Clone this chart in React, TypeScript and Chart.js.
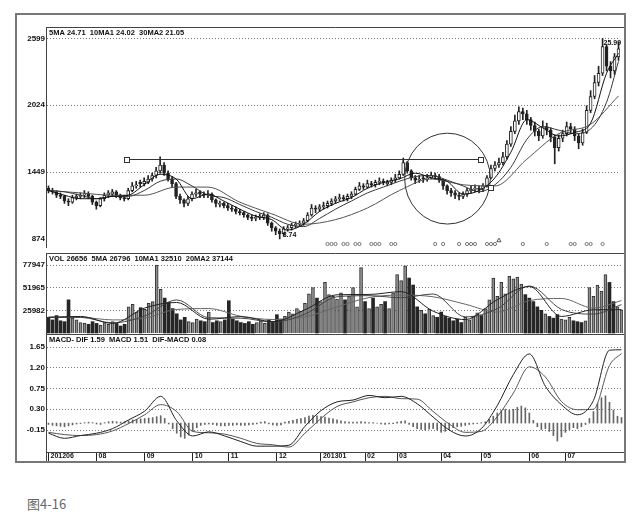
import { useEffect, useRef } from "react";
import { Chart, registerables } from "chart.js";

Chart.register(...registerables);

// one bar = roughly two sessions, June 2012 .. July 2013
const opens = [
  13.1, 12.9, 12.8, 12.5, 12.4, 12.0, 11.9, 12.3, 12.4, 12.5,
  12.6, 12.4, 11.9, 11.6, 12.2, 12.5, 12.6, 12.8, 12.5, 12.3,
  12.2, 12.9, 13.3, 13.6, 13.5, 13.6, 13.9, 14.2, 14.6, 15.1,
  14.4, 13.9, 13.5, 12.4, 12.1, 11.8, 12.2, 12.6, 12.8, 12.6,
  12.5, 12.6, 12.1, 11.7, 11.8, 11.6, 11.4, 11.3, 11.1, 11.0,
  10.8, 10.6, 10.5, 10.6, 10.6, 10.8, 10.1, 9.7, 9.4, 9.2,
  9.6, 9.7, 9.9, 10.0, 10.1, 10.3, 10.8, 11.4, 11.3, 11.5,
  11.6, 11.8, 12.0, 12.2, 12.3, 12.2, 12.4, 12.6, 13.0, 13.3,
  13.2, 13.5, 13.4, 13.6, 13.7, 13.5, 13.6, 13.8, 14.0, 14.3,
  15.3, 14.6, 14.0, 13.8, 14.0, 13.9, 14.0, 14.2, 14.1, 13.8,
  13.3, 12.9, 12.7, 12.5, 12.4, 12.6, 12.9, 13.0, 13.1, 13.0,
  13.3, 14.0, 14.8, 15.1, 15.3, 15.8, 16.9, 18.0, 18.9, 19.7,
  19.5, 19.0, 18.5, 18.0, 17.6, 18.4, 18.1, 17.5, 16.6, 17.4,
  17.8, 18.4, 18.2, 17.6, 17.0, 17.9, 19.8, 21.0, 22.2, 23.0,
  25.3, 23.6, 23.2, 24.4,
];
const highs = [
  13.3, 13.1, 12.9, 12.7, 12.5, 12.2, 12.5, 12.6, 12.7, 12.9,
  12.8, 12.5, 12.0, 12.3, 12.7, 12.9, 13.0, 12.9, 12.6, 12.5,
  13.1, 13.6, 13.7, 13.8, 14.0, 14.2, 14.4, 14.9, 15.8, 15.3,
  14.6, 14.1, 13.6, 12.6, 12.2, 12.4, 12.8, 13.0, 12.9, 12.8,
  12.9, 12.7, 12.2, 12.0, 11.9, 11.8, 11.6, 11.5, 11.3, 11.1,
  10.9, 10.8, 10.8, 10.9, 11.0, 10.9, 10.2, 9.8, 9.6, 9.8,
  9.9, 10.1, 10.2, 10.3, 10.5, 11.0, 11.7, 11.6, 11.7, 11.9,
  12.0, 12.2, 12.4, 12.6, 12.5, 12.6, 12.8, 13.2, 13.6, 13.5,
  13.8, 13.7, 13.8, 14.0, 13.9, 13.8, 14.0, 14.3, 14.6, 15.7,
  15.4, 14.7, 14.2, 14.2, 14.2, 14.3, 14.5, 14.4, 14.3, 13.9,
  13.4, 13.1, 12.9, 12.7, 12.8, 13.1, 13.3, 13.4, 13.3, 13.5,
  14.2, 15.1, 15.4, 15.7, 16.2, 17.2, 18.4, 19.4, 20.1, 20.0,
  19.8, 19.2, 18.8, 18.2, 18.9, 18.7, 18.3, 17.7, 17.7, 18.1,
  18.8, 18.7, 18.4, 17.8, 18.2, 20.2, 21.5, 22.8, 23.6, 25.99,
  25.5, 24.0, 24.7, 25.7,
];
const lows = [
  12.7, 12.6, 12.3, 12.2, 11.8, 11.6, 11.8, 12.1, 12.2, 12.3,
  12.2, 11.7, 11.3, 11.5, 12.0, 12.3, 12.4, 12.3, 12.1, 12.0,
  12.1, 12.8, 13.1, 13.2, 13.3, 13.5, 13.7, 14.0, 14.4, 14.2,
  13.7, 13.2, 12.2, 11.8, 11.5, 11.6, 12.0, 12.4, 12.3, 12.3,
  12.3, 11.9, 11.5, 11.5, 11.4, 11.2, 11.1, 10.9, 10.8, 10.6,
  10.4, 10.3, 10.3, 10.4, 10.4, 9.9, 9.4, 9.1, 8.74, 9.0,
  9.4, 9.5, 9.7, 9.8, 9.9, 10.2, 10.7, 11.0, 11.1, 11.3,
  11.4, 11.6, 11.8, 12.0, 12.0, 12.0, 12.2, 12.5, 12.9, 13.0,
  13.1, 13.2, 13.2, 13.4, 13.4, 13.3, 13.4, 13.6, 13.9, 14.2,
  14.4, 13.8, 13.5, 13.6, 13.6, 13.7, 13.9, 13.9, 13.6, 13.0,
  12.6, 12.4, 12.2, 12.1, 12.2, 12.4, 12.7, 12.8, 12.7, 12.8,
  13.2, 13.9, 14.6, 14.9, 15.1, 15.6, 16.7, 17.8, 18.6, 19.0,
  18.6, 18.1, 17.6, 17.2, 17.4, 17.7, 17.1, 15.2, 16.3, 17.1,
  17.6, 17.8, 17.2, 16.5, 16.8, 17.8, 19.6, 20.8, 21.9, 22.8,
  23.2, 22.6, 22.9, 24.1,
];
const closes = [
  12.9, 12.8, 12.5, 12.4, 12.0, 11.9, 12.3, 12.4, 12.5, 12.6,
  12.4, 11.9, 11.6, 12.2, 12.5, 12.7, 12.8, 12.5, 12.3, 12.2,
  12.9, 13.3, 13.4, 13.5, 13.7, 13.9, 14.2, 14.6, 15.1, 14.4,
  13.9, 13.5, 12.4, 12.1, 11.8, 12.2, 12.6, 12.7, 12.6, 12.5,
  12.6, 12.1, 11.8, 11.8, 11.6, 11.4, 11.3, 11.1, 11.0, 10.8,
  10.6, 10.5, 10.6, 10.7, 10.8, 10.1, 9.7, 9.4, 9.2, 9.6,
  9.7, 9.9, 10.0, 10.1, 10.3, 10.8, 11.4, 11.3, 11.5, 11.6,
  11.8, 12.0, 12.2, 12.3, 12.2, 12.4, 12.6, 13.0, 13.3, 13.2,
  13.5, 13.4, 13.6, 13.7, 13.6, 13.6, 13.8, 14.0, 14.3, 15.3,
  14.6, 14.0, 13.8, 13.9, 13.9, 14.0, 14.2, 14.1, 13.8, 13.3,
  12.9, 12.7, 12.5, 12.4, 12.6, 12.9, 13.0, 13.1, 13.0, 13.3,
  14.0, 14.8, 15.1, 15.3, 15.8, 16.9, 18.0, 18.9, 19.7, 19.5,
  19.0, 18.5, 18.0, 17.6, 18.4, 18.1, 17.5, 16.6, 17.4, 17.8,
  18.4, 18.2, 17.6, 17.0, 17.9, 19.8, 21.0, 22.2, 23.0, 25.3,
  23.6, 23.2, 24.4, 25.1,
];
const volumes = [
  18000, 15000, 20000, 14000, 13000, 38000, 17000, 15000, 12000, 11000,
  10000, 13000, 11000, 9000, 12000, 10000, 13000, 11000, 8000, 10000,
  30000, 33000, 24000, 29000, 27000, 34000, 36000, 77947, 50000, 40000,
  35000, 28000, 22000, 15000, 18000, 13000, 12000, 16000, 14000, 13000,
  24000, 12000, 14000, 13000, 15000, 37000, 16000, 14000, 12000, 11000,
  13000, 10000, 12000, 14000, 11000, 15000, 13000, 21000, 16000, 19000,
  24000, 22000, 28000, 25000, 34000, 45000, 52000, 40000, 36000, 58000,
  44000, 42000, 39000, 46000, 38000, 42000, 52000, 30000, 75000, 36000,
  28000, 40000, 30000, 33000, 36000, 28000, 46000, 67000, 60000, 77000,
  63000, 55000, 30000, 26000, 22000, 27000, 20000, 18000, 24000, 19000,
  17000, 14000, 16000, 12000, 18000, 15000, 19000, 23000, 20000, 28000,
  38000, 63000, 42000, 58000, 45000, 65000, 62000, 64000, 56000, 44000,
  40000, 36000, 30000, 26000, 22000, 19000, 17000, 21000, 16000, 15000,
  18000, 14000, 13000, 12000, 14000, 52000, 42000, 55000, 48000, 67000,
  58000, 36000, 30000, 26656,
];
const macdBars = [
  -0.03, -0.05, -0.06, -0.07, -0.08, -0.06, -0.04, -0.02, -0.01, 0.01,
  0.02, 0.01, -0.02, -0.03, 0.01, 0.03, 0.04, 0.03, 0.02, 0.03,
  0.05, 0.07, 0.08, 0.09, 0.1, 0.11, 0.12, 0.14, 0.16, 0.1,
  -0.02, -0.12, -0.22, -0.3, -0.33, -0.26, -0.17, -0.1, -0.05, -0.03,
  -0.02, -0.03, -0.05, -0.06, -0.06, -0.05, -0.05, -0.04, -0.05, -0.05,
  -0.04, -0.03, -0.02, 0.02, 0.03, -0.02, -0.04, -0.05, -0.04, 0.02,
  0.04, 0.06, 0.08, 0.1, 0.12, 0.15, 0.17, 0.16, 0.14, 0.13,
  0.11, 0.09, 0.07, 0.05, 0.03, 0.02, 0.02, 0.02, 0.03, 0.02,
  0.01, 0.01, 0.0, -0.02, -0.03, -0.02, -0.01, 0.02, 0.04, 0.05,
  -0.03, -0.08, -0.12, -0.14, -0.15, -0.13, -0.12, -0.15, -0.2, -0.18,
  -0.14, -0.1, -0.08, -0.07, -0.05, -0.03, -0.02, -0.01, 0.01, 0.03,
  0.08, 0.15, 0.22, 0.27, 0.3, 0.28, 0.3, 0.34, 0.37, 0.33,
  0.22, 0.06, -0.08, -0.14, -0.12, -0.18, -0.27, -0.39, -0.3, -0.2,
  -0.14, -0.1, -0.12, -0.08, -0.03, 0.1, 0.25, 0.42, 0.55, 0.59,
  0.45, 0.28, 0.15, 0.12,
];

// moving averages read every 4th / 8th bar
const ma5 = [
  12.9, 12.5, 12.2, 12.2, 12.4, 12.5, 13.4, 14.3, 13.9, 12.2, 12.6, 12.0, 11.3,
  10.7, 10.4, 9.5, 10.0, 11.1, 11.8, 12.3, 13.1, 13.6, 13.9, 14.4, 14.0, 13.7,
  12.6, 12.9, 14.0, 16.2, 19.0, 18.3, 17.6, 17.9, 18.7, 23.0, 24.71,
];
const ma10 = [
  12.9, 12.8, 12.5, 12.2, 12.4, 12.4, 12.9, 13.7, 13.9, 13.3, 12.5, 12.3, 11.7,
  11.1, 10.6, 10.0, 9.8, 10.5, 11.3, 12.0, 12.7, 13.2, 13.7, 14.1, 14.2, 13.8,
  13.3, 12.8, 13.4, 14.9, 17.3, 18.4, 18.1, 17.8, 18.2, 20.5, 24.02,
];
const ma30 = [
  12.9, 12.7, 12.5, 12.5, 13.2, 13.2, 11.9, 10.9, 10.0, 10.4, 11.4, 12.9, 13.9,
  13.4, 13.3, 15.6, 17.8, 18.6, 21.05,
];
const volMa5 = [
  18000, 19000, 11000, 28600, 35000, 15800, 18800, 13000, 26600, 43800, 44200,
  47400, 25000, 15400, 38200, 53200, 19000, 26600, 26796,
];
const volMa10 = [
  18000, 18000, 11600, 19500, 37900, 17500, 17000, 12500, 21700, 41500, 42800,
  40400, 44700, 18500, 27800, 53900, 27100, 21700, 32510,
];
const volMa20 = [
  18000, 18000, 15000, 17000, 27000, 28000, 19200, 15500, 18400, 29900, 40600,
  43500, 41500, 33000, 24000, 37100, 39600, 28600, 37144,
];
const dif = [
  -0.22, -0.33, -0.27, -0.22, -0.12, 0.07, 0.26, 0.58, 0.05, -0.28, -0.19, -0.28,
  -0.4, -0.5, -0.5, -0.48, -0.07, 0.27, 0.46, 0.5, 0.6, 0.55, 0.58, 0.42, 0.13,
  -0.15, -0.28, -0.12, 0.38, 1.05, 1.5, 0.8, 0.4, 0.18, 0.49, 1.58, 1.59,
];
const dea = [
  -0.2, -0.25, -0.27, -0.25, -0.17, -0.01, 0.18, 0.4, 0.25, -0.18, -0.21, -0.24,
  -0.33, -0.44, -0.47, -0.52, -0.22, 0.1, 0.36, 0.46, 0.55, 0.58, 0.53, 0.52,
  0.25, -0.02, -0.2, -0.18, 0.14, 0.65, 1.22, 1.0, 0.47, 0.29, 0.3, 1.25, 1.51,
];

const priceTicks = [25.99, 20.24, 14.49, 8.74];
const priceTickLabels = ["2599", "2024", "1449", "874"];
const volTicks = [77947, 51965, 25982];
const volTickLabels = ["77947", "51965", "25982"];
const macdTicks = [1.65, 1.2, 0.75, 0.3, -0.15];
const macdTickLabels = ["1.65", "1.20", "0.75", "0.30", "-0.15"];
const monthTicks = [0, 12, 24, 36, 45, 57, 68, 79, 87, 98, 108, 120, 129];
const monthLabels = ["201206", "08", "09", "10", "11", "12", "201301", "02", "03", "04", "05", "06", "07"];

// signal dots along the bottom of the price panel
const signalMarks = [70, 71, 72, 74, 75, 77, 78, 81, 82, 83, 86, 87, 97, 99, 103, 105, 106, 107, 110, 111, 112, 119, 125, 131, 132, 135, 136, 139];
const arrowMarks = [113];
const markerLevel = 8.3;

// hand drawn marks
const resistance = { from: 19.6, to: 108.4, price: 15.62 };
const focusRing = { index: 100.1, price: 13.93, halfWidth: 10.75, halfHeight: 3.91 };
const breakout = { index: 111.1, price: 13.14 };

const N = closes.length;
const X_MIN = -0.375;
const X_MAX = N - 0.625;
const FONT = "'Liberation Sans', Arial, sans-serif";

const sampled = (values: number[], step: number) =>
  values.map((v, k) => ({ x: Math.min(k * step, N - 1), y: v }));
const isUp = (i: number) => closes[i] >= opens[i];

function xAxis(show: boolean) {
  return {
    type: "linear",
    min: X_MIN,
    max: X_MAX,
    offset: false,
    display: show,
    afterBuildTicks: (s: any) => {
      s.ticks = monthTicks.map((v) => ({ value: v }));
    },
    afterFit: (s: any) => {
      s.height = show ? 10 : 0;
      s.paddingLeft = 0;
      s.paddingRight = 0;
    },
    grid: { offset: false, drawOnChartArea: false, drawTicks: true, tickLength: 10, color: "#222", lineWidth: 1 },
    border: { display: false },
    ticks: {
      autoSkip: false,
      maxRotation: 0,
      align: "start",
      labelOffset: 2,
      padding: -10,
      color: "#111",
      font: { family: FONT, size: 7, weight: "bold" },
      callback: (_v: any, i: number) => monthLabels[i],
    },
  };
}

function yAxis(min: number, max: number, values: number[], labels: string[], hiddenGrid?: number) {
  return {
    type: "linear",
    position: "left",
    min,
    max,
    bounds: "data",
    afterBuildTicks: (s: any) => {
      s.ticks = values.map((v) => ({ value: v }));
    },
    afterFit: (s: any) => {
      s.width = 32;
      s.paddingTop = 0;
      s.paddingBottom = 0;
    },
    grid: {
      drawTicks: false,
      lineWidth: 1,
      color: (c: any) => (c.tick && c.tick.value === hiddenGrid ? "rgba(0,0,0,0)" : "#7a7a7a"),
    },
    border: { display: false, dash: [1, 2] },
    ticks: {
      autoSkip: false,
      padding: 2,
      color: "#111",
      font: { family: FONT, size: 8, weight: "bold" },
      callback: (_v: any, i: number) => labels[i],
    },
  };
}

function panelFrame(withStrip: boolean) {
  return {
    id: "panelFrame",
    afterDraw(chart: any) {
      const { ctx, chartArea: a, width, height } = chart;
      ctx.save();
      ctx.strokeStyle = "#444";
      ctx.lineWidth = 1;
      ctx.beginPath();
      const left = Math.round(a.left) - 0.5;
      ctx.moveTo(left, Math.round(a.top) + 0.5);
      ctx.lineTo(width, Math.round(a.top) + 0.5);
      ctx.moveTo(left, Math.round(a.top));
      ctx.lineTo(left, withStrip ? height : Math.round(a.bottom));
      if (withStrip) {
        ctx.moveTo(left, Math.round(a.bottom) + 0.5);
        ctx.lineTo(width, Math.round(a.bottom) + 0.5);
      }
      ctx.stroke();
      ctx.restore();
    },
  };
}

function headerText(text: string) {
  return {
    id: "headerText",
    afterDraw(chart: any) {
      const { ctx, chartArea: a } = chart;
      ctx.save();
      ctx.font = `bold 7.5px ${FONT}`;
      ctx.fillStyle = "#111";
      ctx.textBaseline = "middle";
      ctx.fillText(text, a.left + 2, a.top + 5.5);
      ctx.restore();
    },
  };
}

const priceMarks = {
  id: "priceMarks",
  afterDatasetsDraw(chart: any) {
    const { ctx } = chart;
    const x = chart.scales.x;
    const y = chart.scales.y;
    ctx.save();
    ctx.strokeStyle = "#333";
    ctx.lineWidth = 1;

    const box = (px: number, py: number) => {
      const bx = Math.round(px) - 2.5;
      const by = Math.round(py) - 2.5;
      ctx.fillStyle = "#fff";
      ctx.fillRect(bx, by, 5, 5);
      ctx.strokeRect(bx, by, 5, 5);
    };

    const ly = Math.round(y.getPixelForValue(resistance.price)) + 0.5;
    const lx1 = x.getPixelForValue(resistance.from);
    const lx2 = x.getPixelForValue(resistance.to);
    ctx.beginPath();
    ctx.moveTo(lx1, ly);
    ctx.lineTo(lx2, ly);
    ctx.stroke();
    box(lx1, ly);
    box(lx2, ly);

    const cx = x.getPixelForValue(focusRing.index);
    const cy = y.getPixelForValue(focusRing.price);
    const rx = Math.abs(x.getPixelForValue(focusRing.index + focusRing.halfWidth) - cx);
    const ry = Math.abs(y.getPixelForValue(focusRing.price + focusRing.halfHeight) - cy);
    ctx.beginPath();
    ctx.ellipse(cx, cy, rx, ry, 0, 0, Math.PI * 2);
    ctx.stroke();

    box(x.getPixelForValue(breakout.index), y.getPixelForValue(breakout.price));

    const low = Math.min(...lows);
    const high = Math.max(...highs);
    ctx.fillStyle = "#111";
    ctx.font = `bold 7px ${FONT}`;
    ctx.textBaseline = "bottom";
    ctx.fillText(low.toFixed(2), x.getPixelForValue(lows.indexOf(low)) + 3, y.getPixelForValue(low));
    ctx.textBaseline = "top";
    ctx.fillText(high.toFixed(2), x.getPixelForValue(highs.indexOf(high)) + 1, y.getPixelForValue(high) + 1);
    ctx.restore();
  },
};

const baseOptions = (scales: any) => ({
  animation: false,
  responsive: false,
  events: [],
  layout: { padding: { left: 0, right: 2, top: 0, bottom: 0 } },
  plugins: { legend: { display: false }, tooltip: { enabled: false } },
  scales,
});

const line = (data: any[], color: string) => ({
  type: "line",
  data,
  borderColor: color,
  borderWidth: 1,
  pointRadius: 0,
  cubicInterpolationMode: "monotone",
  order: 0,
});

function buildPrice() {
  return {
    type: "bar",
    data: {
      datasets: [
        line(sampled(ma5, 4), "#111"),
        line(sampled(ma10, 4), "#3a3a3a"),
        line(sampled(ma30, 8), "#555"),
        {
          type: "line",
          data: signalMarks.map((i) => ({ x: i, y: markerLevel })),
          showLine: false,
          pointRadius: 1.6,
          pointBorderWidth: 1,
          pointBorderColor: "#777",
          pointBackgroundColor: "#fff",
          order: 0,
        },
        {
          type: "line",
          data: arrowMarks.map((i) => ({ x: i, y: markerLevel + 0.3 })),
          showLine: false,
          pointStyle: "triangle",
          pointRadius: 2.4,
          pointBorderWidth: 1,
          pointBorderColor: "#555",
          pointBackgroundColor: "#fff",
          order: 0,
        },
        {
          data: closes.map((c, i) => ({ x: i, y: [opens[i], c] })),
          barThickness: 3,
          minBarLength: 1,
          backgroundColor: (c: any) => (isUp(c.dataIndex) ? "#fff" : "#222"),
          borderColor: "#222",
          borderWidth: 1,
          borderSkipped: false,
          grouped: false,
          order: 1,
        },
        {
          data: closes.map((_c, i) => ({ x: i, y: [lows[i], highs[i]] })),
          barThickness: 1,
          backgroundColor: "#222",
          grouped: false,
          order: 2,
        },
      ],
    },
    options: baseOptions({
      x: xAxis(false),
      y: yAxis(7.958, 26.978, priceTicks, priceTickLabels, 8.74),
    }),
    plugins: [panelFrame(false), headerText("5MA 24.71  10MA1 24.02  30MA2 21.05"), priceMarks],
  };
}

function buildVolume() {
  return {
    type: "bar",
    data: {
      datasets: [
        line(sampled(volMa5, 8), "#222"),
        line(sampled(volMa10, 8), "#444"),
        line(sampled(volMa20, 8), "#666"),
        {
          data: volumes.map((v, i) => ({ x: i, y: v })),
          barThickness: 3,
          backgroundColor: (c: any) => (isUp(c.dataIndex) ? "#8e8e8e" : "#262626"),
          borderColor: "#333",
          borderWidth: (c: any) => (isUp(c.dataIndex) ? 1 : 0),
          borderSkipped: "start",
          grouped: false,
          order: 1,
        },
      ],
    },
    options: baseOptions({
      x: xAxis(false),
      y: yAxis(-1146, 91703, volTicks, volTickLabels),
    }),
    plugins: [panelFrame(false), headerText("VOL 26656  5MA 26796  10MA1 32510  20MA2 37144")],
  };
}

function buildMacd() {
  return {
    type: "bar",
    data: {
      datasets: [
        line(sampled(dif, 4), "#222"),
        line(sampled(dea, 4), "#555"),
        {
          data: macdBars.map((v, i) => ({ x: i, y: v })),
          barThickness: 1,
          backgroundColor: "#666",
          grouped: false,
          order: 1,
        },
      ],
    },
    options: baseOptions({
      x: xAxis(true),
      y: yAxis(-0.627, 1.932, macdTicks, macdTickLabels),
    }),
    plugins: [panelFrame(true), headerText("MACD- DIF 1.59  MACD 1.51  DIF-MACD 0.08")],
  };
}

function Panel({ top, height, build }: { top: number; height: number; build: () => any }) {
  const canvasRef = useRef<HTMLCanvasElement>(null);

  useEffect(() => {
    if (!canvasRef.current) return;
    const chart = new Chart(canvasRef.current, build());
    return () => {
      chart.destroy();
    };
  }, []);

  return (
    <canvas
      ref={canvasRef}
      width={610}
      height={height}
      style={{ position: "absolute", left: 15, top, width: 610, height }}
    />
  );
}

export default function App() {
  return (
    <div style={{ position: "absolute", left: 0, top: 0, width: 640, height: 517, background: "#fff", overflow: "hidden" }}>
      <Panel top={22} height={231} build={buildPrice} />
      <Panel top={253} height={81} build={buildVolume} />
      <Panel top={334} height={128} build={buildMacd} />
      <div
        style={{
          position: "absolute",
          left: 15,
          top: 13,
          width: 611,
          height: 450,
          border: "2px solid #777",
          boxSizing: "border-box",
          pointerEvents: "none",
        }}
      />
      <div
        style={{
          position: "absolute",
          left: 27,
          top: 496,
          fontFamily: "'Noto Sans CJK SC', sans-serif",
          fontSize: 13,
          lineHeight: "15px",
          color: "#666",
        }}
      >
        图4-16
      </div>
    </div>
  );
}
